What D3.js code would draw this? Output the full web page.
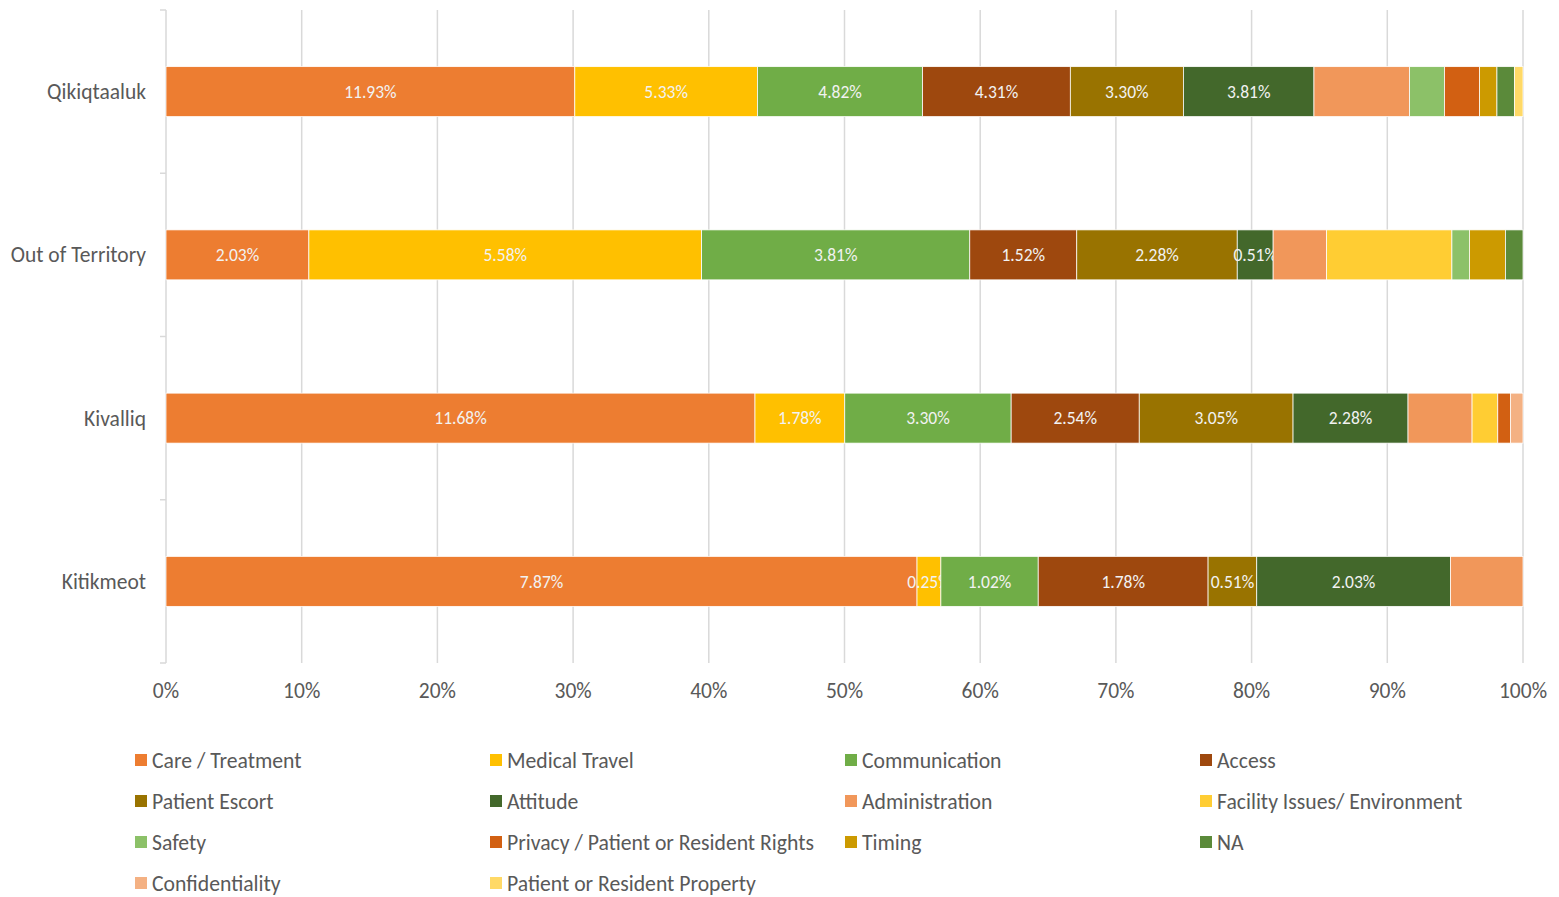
<!DOCTYPE html>
<html lang="en">

<head>
    <meta charset="UTF-8">
    <title>Complaints by region</title>
    <script src="https://d3js.org/d3.v7.min.js"></script>
    <style>
        body { margin: 0; background: #fff; }
        text { font-family: Calibri, Carlito, Lato, sans-serif; }
    </style>
</head>

<body>
    <script>
        // regions, top to bottom
        var regions = ["Qikiqtaaluk", "Out of Territory", "Kivalliq", "Kitikmeot"];
        var categories = ["Care / Treatment", "Medical Travel", "Communication", "Access",
            "Patient Escort", "Attitude", "Administration", "Facility Issues/ Environment",
            "Safety", "Privacy / Patient or Resident Rights", "Timing", "NA",
            "Confidentiality", "Patient or Resident Property"];

        // share of all complaints (%), one value per region
        var careTreatment = [11.93, 2.03, 11.68, 7.87];
        var medicalTravel = [5.33, 5.58, 1.78, 0.25];
        var communication = [4.82, 3.81, 3.30, 1.02];
        var access = [4.31, 1.52, 2.54, 1.78];
        var patientEscort = [3.30, 2.28, 3.05, 0.51];
        var attitude = [3.81, 0.51, 2.28, 2.03];
        var administration = [2.79, 0.76, 1.27, 0.76];
        var facility = [0, 1.78, 0.51, 0];
        var safety = [1.02, 0.25, 0, 0];
        var privacy = [1.02, 0, 0.25, 0];
        var timing = [0.51, 0.51, 0, 0];
        var na = [0.51, 0.25, 0, 0];
        var confidentiality = [0, 0, 0.25, 0];
        var property = [0.25, 0, 0, 0];

        var xTicks = [0, 0.1, 0.2, 0.3, 0.4, 0.5, 0.6, 0.7, 0.8, 0.9, 1];
        // only these series carry data labels
        var labelled = ["Care / Treatment", "Medical Travel", "Communication", "Access", "Patient Escort", "Attitude"];

        var series = [careTreatment, medicalTravel, communication, access, patientEscort, attitude,
            administration, facility, safety, privacy, timing, na, confidentiality, property];
        var colors = ["#ED7D31", "#FFC000", "#70AD47", "#9E480E", "#997300", "#43682B", "#F1975A",
            "#FFCD33", "#8CC168", "#D26012", "#CC9A00", "#5B8A3A", "#F4B183", "#FFD966"];

        var table = regions.map(function (r, i) {
            var row = { region: r };
            categories.forEach(function (c, j) { row[c] = series[j][i]; });
            return row;
        });

        var width = 1559;
        var height = 897;
        // plot area edges (can't call it "top", that's window.top)
        var plotL = 166, plotR = 1523, plotT = 10, plotB = 663;

        var svg = d3.select("body")
            .append("svg")
            .attr("width", width)
            .attr("height", height);

        var x = d3.scaleLinear().domain([0, 1]).range([plotL, plotR]);
        var y = d3.scaleBand().domain(regions).range([plotT, plotB])
            .paddingInner(0.694).paddingOuter(0.347);
        var color = d3.scaleOrdinal().domain(categories).range(colors);

        // gridlines
        svg.append("g")
            .selectAll("line")
            .data(xTicks.slice(1))
            .enter()
            .append("line")
            .attr("x1", d => x(d)).attr("x2", d => x(d))
            .attr("y1", plotT).attr("y2", plotB)
            .attr("stroke", "#d9d9d9")
            .attr("stroke-width", 1.5);

        // left axis line + ticks between categories
        svg.append("line")
            .attr("x1", plotL).attr("x2", plotL)
            .attr("y1", plotT).attr("y2", plotB)
            .attr("stroke", "#d9d9d9")
            .attr("stroke-width", 1.5);
        var step = y.step();
        svg.append("g")
            .selectAll("line")
            .data(d3.range(regions.length + 1))
            .enter()
            .append("line")
            .attr("x1", plotL - 6).attr("x2", plotL)
            .attr("y1", d => plotT + d * step).attr("y2", d => plotT + d * step)
            .attr("stroke", "#d9d9d9")
            .attr("stroke-width", 1.5);

        // x tick labels
        svg.append("g")
            .selectAll("text")
            .data(xTicks)
            .enter()
            .append("text")
            .attr("x", d => x(d))
            .attr("y", 698)
            .attr("text-anchor", "middle")
            .attr("fill", "#595959")
            .style("font-size", "21.5px")
            .text(d3.format(".0%"));

        // category labels
        svg.append("g")
            .selectAll("text")
            .data(regions)
            .enter()
            .append("text")
            .attr("x", 146)
            .attr("y", d => y(d) + y.bandwidth() / 2)
            .attr("dy", "0.35em")
            .attr("text-anchor", "end")
            .attr("fill", "#595959")
            .style("font-size", "21.5px")
            .text(d => d);

        var stack = d3.stack().keys(categories).offset(d3.stackOffsetExpand);
        var layers = stack(table);

        var groups = svg.selectAll("g.layer")
            .data(layers)
            .enter()
            .append("g")
            .attr("class", "layer")
            .attr("fill", d => color(d.key));

        groups.selectAll("rect")
            .data(d => d)
            .enter()
            .append("rect")
            .attr("x", d => x(d[0]))
            .attr("y", d => y(d.data.region))
            .attr("width", d => x(d[1]) - x(d[0]))
            .attr("height", y.bandwidth())
            .attr("stroke", "#fff")
            .attr("stroke-width", 0.75);

        // data labels
        groups.filter(d => labelled.indexOf(d.key) >= 0)
            .selectAll("text")
            .data(d => d.filter(p => p.data[d.key] > 0).map(function (p) { return { p: p, key: d.key }; }))
            .enter()
            .append("text")
            .attr("x", d => (x(d.p[0]) + x(d.p[1])) / 2)
            .attr("y", d => y(d.p.data.region) + y.bandwidth() / 2)
            .attr("dy", "0.35em")
            .attr("text-anchor", "middle")
            .attr("fill", "#f2f2f2")
            .style("font-size", "17.5px")
            .text(d => d.p.data[d.key].toFixed(2) + "%");

        // legend, 4 columns
        var legend = svg.selectAll("g.legend")
            .data(categories)
            .enter()
            .append("g")
            .attr("class", "legend")
            .attr("transform", function (d, i) {
                return "translate(" + (135 + (i % 4) * 355) + "," + (760 + Math.floor(i / 4) * 41) + ")";
            });
        legend.append("rect")
            .attr("x", 0).attr("y", -6)
            .attr("width", 12).attr("height", 12)
            .attr("fill", d => color(d));
        legend.append("text")
            .attr("x", 17)
            .attr("dy", "0.35em")
            .attr("fill", "#595959")
            .style("font-size", "21.7px")
            .text(d => d);
    </script>
</body>

</html>
